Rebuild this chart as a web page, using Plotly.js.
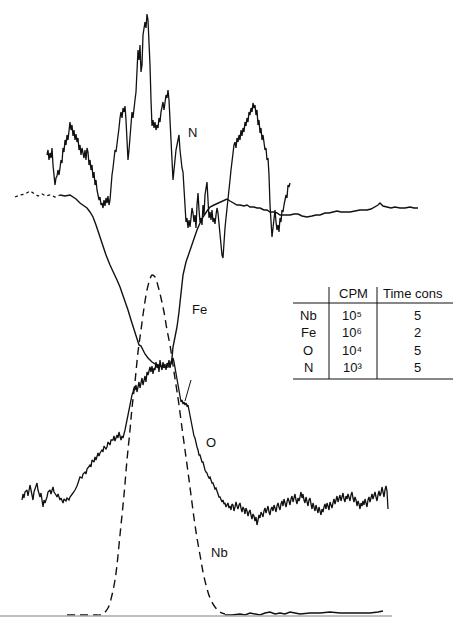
<!DOCTYPE html>
<html><head><meta charset="utf-8">
<script src="https://cdn.plot.ly/plotly-3.0.1.min.js"></script>
<style>html,body{margin:0;padding:0;background:#fff;}#chart{width:453px;height:617px;}</style>
</head><body><div id="chart"></div>
<script>
// Distance along the scan (x) and recorder deflection (y, chart units measured downward)
const feLeftX = [15,20,25,30,35,38,42,46,50,55,60];
const feLeftY = [197,195,194,191,194,196,194,196,195,197,195];
const feX = [60,65,70,73,76,80,84,87,90,93,96,100,103,106,110,114,117,120,123,126,128,131,134,137,139,141,143,145,148,152,157,163,168,171,172,173,175,177,179,181,183,186,190,194,197,200,203,207,210,214,218,222,227,230,233,237,240,244,247,250,254,257,260,264,267,270,274,277,280,285,290,294,298,302,307,312,316,320,325,329,333,337,341,345,350,355,360,364,367,371,375,378,380,383,387,391,395,400,405,410,414,418];
const feY = [195,196,195,197,199,203,206,208,212,217,225,238,246,255,265,273,280,287,295,303,310,320,330,340,345,346,350,354,358,362,365,367,367,364,358,347,337,327,312,295,275,262,250,238,230,223,217,211,207,205,203,201,199,201,203,205,205,206,205,207,207,208,208,210,210,212,212,213,215,215,215,214,214,216,217,216,215,215,213,213,212,211,212,212,212,211,210,210,210,209,207,205,203,206,207,208,207,208,208,207,208,208];

const nX = [47,48,49,50,51,52,53,55,56,57,58,59,60,61,62,63,64,65,66,67,68,69,70,71,72,73,74,75,76,77,78,79,80,81,82,83,84,85,86,87,88,89,90,91,92,93,94,95,96,97,98,99,100,101,102,103,104,105,106,107,108,109,110,111,112,113,114,115,116,117,118,119,120,121,122,123,124,125,126,127,128,129,130,131,132,133,134,135,136,137,138,139,140,141,142,143,144,145,146,147,148,149,150,151,152,153,154,155,156,157,158,159,160,161,162,163,164,165,166,167,168,169,170,171,172,173,174,175,176,177,178,179,180,181,182,183,184,185,186,187,188,189,190,191,192,193,194,195,196,197,198,199,200,201,202,203,204,205,206,207,208,209,210,211,212,213,214,215,216,217,218,219,220,221,222,223,224,225,226,227,228,229,230,231,232,233,234,235,236,237,238,239,240,241,242,243,244,245,246,247,248,249,250,251,252,253,254,255,256,257,258,259,260,261,262,263,264,265,266,267,268,269,270,271,272,273,274,275,276,277,278,279,280,281,282,283,284,285,286,287,288,289,290];
const nY = [155,150,160,153,158,148,165,185,178,176,170,175,168,160,163,148,152,140,145,135,140,128,122,130,125,136,130,140,134,142,138,150,145,155,148,153,158,150,160,148,152,165,160,170,165,178,172,185,180,190,195,200,197,205,203,208,200,206,198,203,196,205,200,185,175,168,160,150,152,145,135,128,118,112,118,108,112,106,120,140,160,150,135,120,112,118,105,100,92,75,50,60,45,72,65,35,30,22,28,14,20,40,65,100,126,120,128,122,130,125,128,118,122,112,108,102,110,100,95,98,90,100,115,140,160,180,170,157,150,145,140,135,150,160,168,172,190,205,222,218,228,220,227,218,208,213,222,215,228,205,193,210,222,218,225,205,215,195,185,182,200,218,212,220,210,222,218,224,215,208,213,225,238,248,255,258,240,228,218,210,200,190,180,170,160,150,145,142,148,138,142,135,140,130,136,128,132,122,126,118,122,112,115,108,112,103,108,105,115,110,125,120,133,128,140,135,145,150,148,160,158,175,205,225,237,228,215,210,222,230,225,232,218,222,210,212,205,200,195,198,185,187,183];

const oX = [22,23,24,25,27,28,30,31,33,34,35,37,38,40,41,43,44,45,47,48,50,51,53,54,56,57,58,60,61,63,64,66,67,69,70,72,73,75,76,77,79,80,82,83,85,86,87,89,90,91,92,94,95,96,98,99,100,102,103,104,106,107,108,110,111,113,114,115,117,118,119,121,122,123,124,125,126,127,128,129,130,131,132,133,134,135,136,137,138,139,140,141,142,143,144,145,146,147,148,149,150,151,152,153,154,155,156,157,158,159,160,161,162,163,164,165,166,167,168,169,170,171,172,173,174,175,176,177,178,179,180,181,182,183,184,185,186,187,188,189,190,191,192,193,194,195,196,197,198,199,200,201,202,203,204,205,206,207,208,209,210,211,212,213,214,215,216,217,218,219,220,221,222,223,224,225,226,227,228,229,230,231,232,233,234,235,236,237,238,239,240,241,242,243,244,245,246,247,248,249,250,251,252,253,254,255,256,257,258,259,260,261,262,263,264,265,266,267,268,269,270,271,272,273,274,275,276,277,278,279,280,281,282,283,284,285,286,287,288,289,290,291,292,293,294,295,296,297,298,299,300,301,302,303,304,305,306,307,308,309,310,311,312,313,314,315,316,317,318,319,320,321,322,323,324,325,326,327,328,329,330,331,332,333,334,335,336,337,338,339,340,341,342,343,344,345,346,347,348,349,350,351,352,353,354,355,356,357,358,359,360,361,362,363,364,365,366,367,368,369,370,371,372,373,374,375,376,377,378,379,380,381,382,383,384,385,386,387,388];
const oY = [500,494,498,492,490,496,485,490,500,492,488,483,490,497,493,507,500,503,497,492,490,494,487,492,495,497,494,500,498,503,499,501,498,500,497,495,493,490,488,486,480,477,478,474,472,474,469,466,465,467,460,462,457,460,453,456,453,450,452,446,449,447,442,445,440,440,436,441,435,438,432,440,436,438,432,430,425,420,415,410,404,398,395,392,388,390,385,392,386,382,388,384,378,385,380,376,382,372,375,370,367,372,366,374,368,370,362,368,364,372,360,366,370,362,368,364,370,363,366,360,368,362,360,358,362,368,373,380,387,393,398,402,400,404,402,405,403,406,405,410,417,422,427,430,436,438,444,447,450,455,455,460,462,462,468,470,472,473,476,478,477,480,483,483,487,489,488,492,495,497,497,500,502,500,504,503,507,505,
503,508,506,510,504,505,511,507,502,506,509,505,503,508,512,507,509,514,508,511,516,512,510,515,519,514,516,521,517,525,519,515,518,512,514,517,511,508,513,510,506,512,515,509,507,511,505,508,512,506,503,507,510,504,501,506,499,503,507,502,498,501,505,499,496,502,499,494,500,504,498,501,497,492,498,494,500,503,497,501,506,500,498,504,509,503,506,511,505,508,513,507,510,515,509,512,507,504,509,503,506,510,502,505,508,503,499,504,500,496,502,498,495,501,497,493,499,502,496,499,494,498,501,495,492,498,502,497,500,506,501,504,509,503,506,501,505,499,503,507,500,497,502,498,494,499,496,492,497,501,495,491,496,493,487,492,497,490,486,491,509];

const nbX = [67,80,95,100,103,108,112,115,117,119,121,124,127,130,132,135,138,141,144,147,150,152,155,158,161,164,167,170,173,176,179,182,185,188,191,194,197,200,203,206,210,215,220,225];
const nbY = [615,615,615,615,614,608,595,580,565,545,525,495,460,430,408,382,352,330,308,290,279,275,277,286,298,312,330,345,365,385,405,428,450,472,495,518,538,555,572,585,598,607,612,614];
const nbTailX = [225,232,240,245,250,255,260,265,270,275,280,285,290,295,300,310,320,330,340,350,360,370,378,383];
const nbTailY = [615,615,614,615,613,614,615,613,612,614,613,614,612,613,614,613,613,612,613,613,613,613,612,611];

const tableHeader = ["CPM", "Time cons"];
const tableElements = ["Nb", "Fe", "O", "N"];
const tableCPM = ["10\u2075", "10\u2076", "10\u2074", "10\u00B3"];
const tableTime = ["5", "2", "5", "5"];

const ink = "#111";
const traces = [
  {x: feLeftX, y: feLeftY, mode: "lines", line: {color: ink, width: 1.2, dash: "dot"}},
  {x: feX, y: feY, mode: "lines", line: {color: ink, width: 1.4}},
  {x: nX, y: nY, mode: "lines", line: {color: ink, width: 1.3}},
  {x: oX, y: oY, mode: "lines", line: {color: ink, width: 1.3}},
  {x: nbX, y: nbY, mode: "lines", line: {color: ink, width: 1.4, dash: "8px,5px", shape: "spline"}},
  {x: nbTailX, y: nbTailY, mode: "lines", line: {color: ink, width: 1.4}}
];

const font = {family: "Liberation Sans, Arial, sans-serif", size: 13, color: ink};
const annotations = [
  {x: 192, y: 132, text: "N"},
  {x: 199, y: 309, text: "Fe"},
  {x: 211, y: 442, text: "O"},
  {x: 219, y: 552, text: "Nb"}
].map(a => Object.assign({xref: "x", yref: "y", showarrow: false, font: font}, a));

const rowY = [315, 332, 350, 367];
tableHeader.forEach((t, i) => annotations.push({xref: "x", yref: "y", x: [353, 413][i], y: 293, text: t, showarrow: false, font: font}));
tableElements.forEach((t, i) => {
  annotations.push({xref: "x", yref: "y", x: 308, y: rowY[i], text: t, showarrow: false, font: font});
  annotations.push({xref: "x", yref: "y", x: 352, y: rowY[i], text: tableCPM[i], showarrow: false, font: font});
  annotations.push({xref: "x", yref: "y", x: 417, y: rowY[i], text: tableTime[i], showarrow: false, font: font});
});

const shapes = [
  {type: "line", xref: "x", yref: "y", x0: 0, x1: 392, y0: 616, y1: 616, line: {color: "#aaa", width: 1.5}},
  {type: "line", xref: "x", yref: "y", x0: 185, x1: 191, y0: 401, y1: 380, line: {color: ink, width: 1}},
  {type: "line", xref: "x", yref: "y", x0: 293, x1: 453, y0: 303, y1: 303, line: {color: ink, width: 1.2}},
  {type: "line", xref: "x", yref: "y", x0: 293, x1: 453, y0: 379, y1: 379, line: {color: ink, width: 1.2}},
  {type: "line", xref: "x", yref: "y", x0: 329, x1: 329, y0: 287, y1: 379, line: {color: ink, width: 1}},
  {type: "line", xref: "x", yref: "y", x0: 377, x1: 377, y0: 287, y1: 379, line: {color: ink, width: 1}}
];

Plotly.newPlot("chart", traces, {
  width: 453, height: 617,
  margin: {l: 0, r: 0, t: 0, b: 0},
  paper_bgcolor: "#fff", plot_bgcolor: "#fff",
  showlegend: false,
  xaxis: {range: [0, 453], visible: false, fixedrange: true},
  yaxis: {range: [617, 0], visible: false, fixedrange: true},
  annotations: annotations,
  shapes: shapes
}, {staticPlot: true});
</script></body></html>
